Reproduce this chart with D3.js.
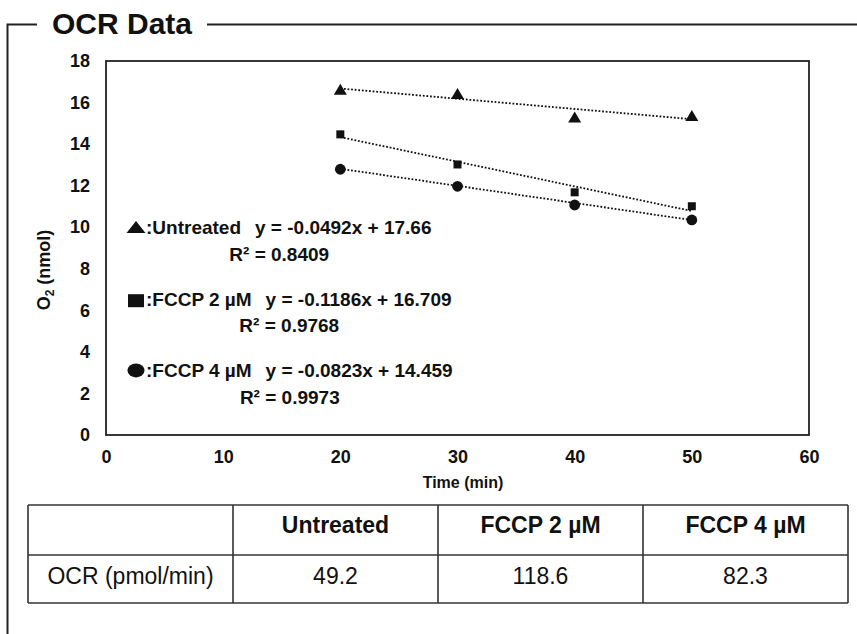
<!DOCTYPE html>
<html>
<head>
<meta charset="utf-8">
<script src="https://cdn.jsdelivr.net/npm/d3@7"></script>
<style>
body{margin:0;background:#fff;}
svg{display:block;font-family:"Liberation Sans",Arial,Helvetica,sans-serif;}
</style>
</head>
<body>
<svg id="chart" width="857" height="634"></svg>
<script>
// data
const times = [20, 30, 40, 50];
const seriesNames = ["Untreated", "FCCP 2 µM", "FCCP 4 µM"];
const untreated = [16.64, 16.43, 15.30, 15.38];
const fccp2 = [14.47, 13.02, 11.68, 11.01];
const fccp4 = [12.79, 11.97, 11.07, 10.35];
const slopes = [-0.0492, -0.1186, -0.0823];
const intercepts = [17.66, 16.709, 14.459];
const r2 = [0.8409, 0.9768, 0.9973];
const xTicks = [0, 10, 20, 30, 40, 50, 60];
const yTicks = [0, 2, 4, 6, 8, 10, 12, 14, 16, 18];
const tableHeader = ["", "Untreated", "FCCP 2 µM", "FCCP 4 µM"];
const tableRow = ["OCR (pmol/min)", "49.2", "118.6", "82.3"];

const series = [untreated, fccp2, fccp4];
const shapes = ["triangle", "square", "circle"];

const svg = d3.select("#chart");
const ink = "#111";

// frame + title
svg.append("path")
    .attr("d", "M7.5,634 L7.5,24.5 L37,24.5 M207,24.5 L857,24.5")
    .attr("fill", "none")
    .attr("stroke", "#222")
    .attr("stroke-width", 2);
svg.append("text")
    .attr("x", 52).attr("y", 34)
    .attr("font-size", 30).attr("font-weight", "bold")
    .attr("fill", ink)
    .text("OCR Data");

// plot area
const plot = {left: 106, right: 809, top: 61, bottom: 435};
const x = d3.scaleLinear().domain([0, 60]).range([plot.left, plot.right]);
const y = d3.scaleLinear().domain([0, 18]).range([plot.bottom, plot.top]);

svg.append("g")
    .attr("transform", "translate(" + plot.left + ",0)")
    .call(d3.axisLeft(y).tickValues(yTicks).tickSize(0).tickPadding(16))
    .call(g => g.select(".domain").remove())
    .selectAll("text")
    .attr("font-size", 18).attr("font-weight", "bold")
    .attr("font-family", "Liberation Sans, Arial, sans-serif")
    .attr("fill", ink);

svg.append("g")
    .attr("transform", "translate(0," + plot.bottom + ")")
    .call(d3.axisBottom(x).tickValues(xTicks).tickSize(0).tickPadding(15))
    .call(g => g.select(".domain").remove())
    .selectAll("text")
    .attr("font-size", 18).attr("font-weight", "bold")
    .attr("font-family", "Liberation Sans, Arial, sans-serif")
    .attr("fill", ink);

svg.append("rect")
    .attr("x", plot.left).attr("y", plot.top)
    .attr("width", plot.right - plot.left)
    .attr("height", plot.bottom - plot.top)
    .attr("fill", "none")
    .attr("stroke", "#222")
    .attr("stroke-width", 1.8);

// axis titles
svg.append("text")
    .attr("x", 463).attr("y", 488)
    .attr("text-anchor", "middle")
    .attr("font-size", 16).attr("font-weight", "bold")
    .attr("fill", ink)
    .text("Time (min)");

let yt = svg.append("text")
    .attr("transform", "translate(50,270) rotate(-90)")
    .attr("text-anchor", "middle")
    .attr("font-size", 18).attr("font-weight", "bold")
    .attr("fill", ink);
yt.append("tspan").text("O");
yt.append("tspan").attr("font-size", 12).attr("dy", 4).text("2");
yt.append("tspan").attr("dy", -4).text(" (nmol)");

// unit marker shapes, scaled by transform
function markerPath(type){
    const p = d3.path();
    if (type === "triangle"){
        p.moveTo(0, -0.5); p.lineTo(0.5, 0.5); p.lineTo(-0.5, 0.5); p.closePath();
    } else if (type === "square"){
        p.rect(-0.5, -0.5, 1, 1);
    } else {
        p.arc(0, 0, 0.5, 0, 2 * Math.PI);
    }
    return p.toString();
}
const markerSize = {triangle: [13, 11], square: [8, 8], circle: [10.8, 10.8]};
const legendSize = {triangle: [19, 12], square: [16, 13], circle: [17, 14]};

// trend lines
series.forEach((s, i) => {
    const x0 = d3.min(times), x1 = d3.max(times);
    svg.append("line")
        .attr("x1", x(x0)).attr("y1", y(slopes[i] * x0 + intercepts[i]))
        .attr("x2", x(x1)).attr("y2", y(slopes[i] * x1 + intercepts[i]))
        .attr("stroke", ink)
        .attr("stroke-width", 1.8)
        .attr("stroke-dasharray", "1.8,1.8");
});

// points
series.forEach((s, i) => {
    const sz = markerSize[shapes[i]];
    svg.append("g").selectAll("path")
        .data(s)
        .enter()
        .append("path")
        .attr("d", markerPath(shapes[i]))
        .attr("transform", (d, j) => "translate(" + x(times[j]) + "," + y(d) + ") scale(" + sz[0] + "," + sz[1] + ")")
        .attr("fill", ink);
});

// legend with equations
const legendTop = 227, legendGap = 71.7, fs = 19;
seriesNames.forEach((name, i) => {
    const cy = legendTop + i * legendGap;
    const sz = legendSize[shapes[i]];
    svg.append("path")
        .attr("d", markerPath(shapes[i]))
        .attr("transform", "translate(136," + (cy + (i === 1 ? 2 : 0)) + ") scale(" + sz[0] + "," + sz[1] + ")")
        .attr("fill", ink);
    let lab = svg.append("text")
        .attr("x", 146).attr("y", cy + 7)
        .attr("font-size", fs).attr("font-weight", "bold")
        .attr("fill", ink)
        .text(":" + name);
    const lb = lab.node().getBBox();
    let eq = svg.append("text")
        .attr("x", lb.x + lb.width + 14).attr("y", cy + 7)
        .attr("font-size", fs).attr("font-weight", "bold")
        .attr("fill", ink)
        .text("y = " + slopes[i] + "x + " + intercepts[i]);
    const eb = eq.node().getBBox();
    svg.append("text")
        .attr("x", (127 + eb.x + eb.width) / 2).attr("y", cy + 33.5)
        .attr("text-anchor", "middle")
        .attr("font-size", fs).attr("font-weight", "bold")
        .attr("fill", ink)
        .text("R² = " + r2[i]);
});

// table
const tbl = {left: 28, right: 848, rows: [505, 555, 603]};
const col = d3.scaleBand().domain(d3.range(tableHeader.length)).range([tbl.left, tbl.right]);
const tg = svg.append("g").attr("stroke", "#333").attr("stroke-width", 1.6);
tbl.rows.forEach(ry => {
    tg.append("line").attr("x1", tbl.left).attr("x2", tbl.right).attr("y1", ry).attr("y2", ry);
});
d3.range(tableHeader.length + 1).forEach(k => {
    const cx = k < tableHeader.length ? col(k) : tbl.right;
    tg.append("line").attr("x1", cx).attr("x2", cx).attr("y1", tbl.rows[0]).attr("y2", tbl.rows[2]);
});
svg.append("g").selectAll("text")
    .data(tableHeader)
    .enter()
    .append("text")
    .attr("x", (d, k) => col(k) + col.bandwidth() / 2)
    .attr("y", 533)
    .attr("text-anchor", "middle")
    .attr("font-size", 23).attr("font-weight", "bold")
    .attr("fill", ink)
    .text(d => d);
svg.append("g").selectAll("text")
    .data(tableRow)
    .enter()
    .append("text")
    .attr("x", (d, k) => col(k) + col.bandwidth() / 2)
    .attr("y", 584)
    .attr("text-anchor", "middle")
    .attr("font-size", 23)
    .attr("fill", ink)
    .text(d => d);
</script>
</body>
</html>
